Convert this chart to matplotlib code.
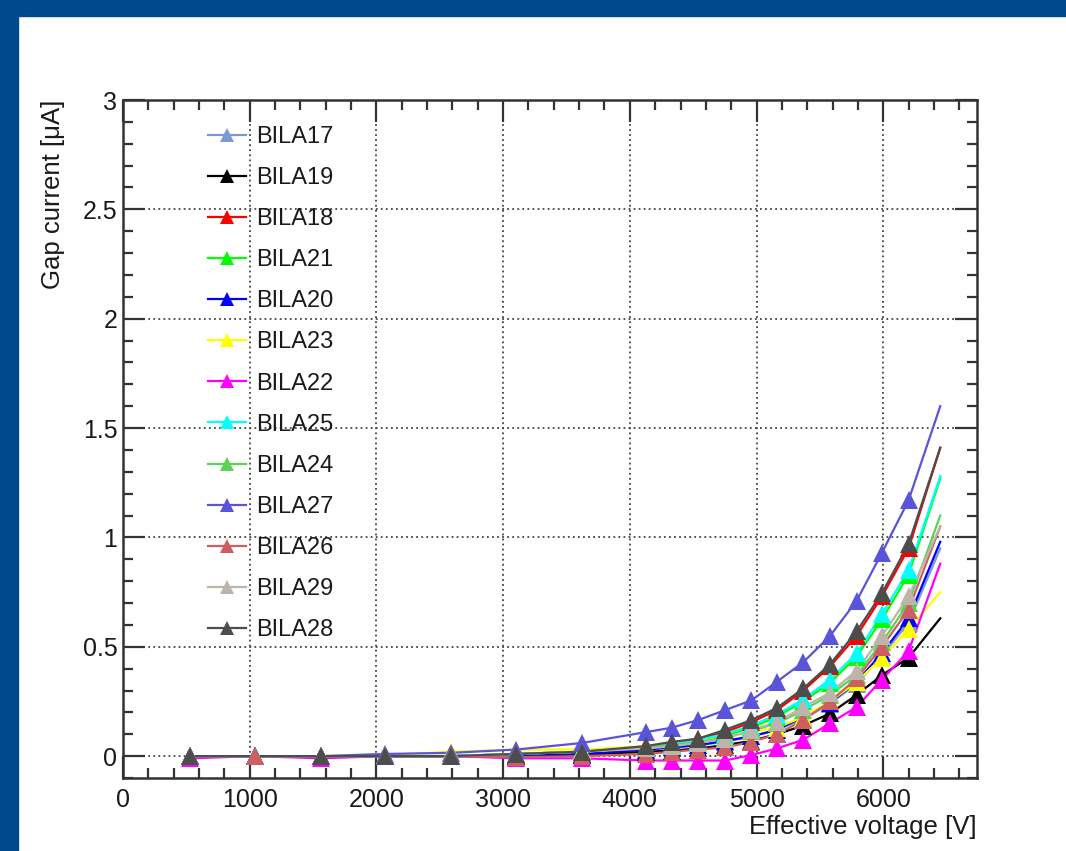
import numpy as np
import matplotlib
matplotlib.use("Agg")
import matplotlib.pyplot as plt
from matplotlib.patches import Rectangle
from matplotlib.ticker import MultipleLocator

plt.rcParams['font.family'] = ['Liberation Sans', 'DejaVu Sans']

# ---------------- data ----------------
voltage = [530, 1040, 1560, 2070, 2590, 3100, 3620, 4130, 4330, 4540,
           4750, 4960, 5160, 5370, 5580, 5790, 5990, 6200]
voltage_end = 6450  # end of the fitted curves

names = ["BILA17", "BILA19", "BILA18", "BILA21", "BILA20", "BILA23", "BILA22",
         "BILA25", "BILA24", "BILA27", "BILA26", "BILA29", "BILA28"]
colors = ["#7d99d1", "#000000", "#ff0000", "#00ff00", "#0000ff", "#ffff00",
          "#ff00ff", "#00ffff", "#59d454", "#5954d9", "#cf5e61", "#bdb4aa",
          "#4d4d4d"]

nan = np.nan
bila17 = [0, 0, 0, 0, 0, 0.005, 0.01, 0.03, 0.04, 0.05, 0.065, 0.09, 0.12, 0.17, 0.24, 0.33, 0.46, 0.61]
bila19 = [0, 0, 0, 0, 0, 0, 0.005, 0.02, 0.025, 0.035, 0.05, 0.07, 0.10, 0.14, 0.195, 0.28, 0.37, 0.45]
bila18 = [0, 0, 0, 0, 0, 0.01, 0.02, 0.045, 0.06, 0.08, 0.11, 0.155, 0.21, 0.30, 0.41, 0.55, 0.73, 0.95]
bila21 = [0, 0, 0, 0, 0, 0.01, 0.02, 0.04, 0.05, 0.07, 0.095, 0.13, 0.18, 0.25, 0.335, 0.455, 0.625, 0.83]
bila20 = [0, 0, 0, 0, 0, 0.005, 0.01, 0.03, 0.04, 0.05, 0.07, 0.09, 0.12, 0.18, 0.245, 0.34, 0.47, 0.63]
bila23 = [0, 0, 0, 0.005, 0.02, 0.03, 0.03, 0.045, 0.055, 0.07, 0.085, 0.11, 0.13, 0.18, 0.25, 0.34, 0.45, 0.58]
bila22 = [-0.01, 0, -0.01, 0, 0, -0.01, -0.01, -0.02, -0.02, -0.02, -0.02, 0.005, 0.035, 0.075, 0.15, 0.225, 0.35, 0.48]
bila25 = [0, 0, 0, 0, 0, 0.01, 0.02, 0.04, 0.055, 0.075, 0.10, 0.14, 0.19, 0.26, 0.35, 0.47, 0.65, 0.85]
bila24 = [0, 0, 0, 0, 0, 0.01, 0.02, 0.04, 0.05, 0.065, 0.085, 0.115, 0.15, 0.21, 0.28, 0.37, 0.52, 0.70]
bila27 = [0, 0, 0, 0.01, 0.015, 0.03, 0.06, 0.11, 0.13, 0.165, 0.21, 0.255, 0.34, 0.43, 0.55, 0.71, 0.93, 1.17]
bila26 = [0, 0, 0, 0, 0, -0.005, 0, 0.01, 0.02, 0.03, 0.04, 0.065, 0.10, 0.165, 0.25, 0.355, 0.50, 0.67]
bila29 = [0, nan, 0, 0, 0, 0.01, 0.02, 0.035, 0.045, 0.06, 0.08, 0.12, 0.155, 0.225, 0.29, 0.39, 0.55, 0.73]
bila28 = [0, nan, 0, 0, 0, 0.01, 0.02, 0.046, 0.065, 0.08, 0.12, 0.165, 0.22, 0.31, 0.42, 0.57, 0.745, 0.97]

# value of each fitted curve at voltage_end
end_values = [0.95, 0.63, 1.41, 1.27, 0.98, 0.75, 0.88, 1.28, 1.10, 1.60, 1.05, 1.05, 1.41]

series = [bila17, bila19, bila18, bila21, bila20, bila23, bila22,
          bila25, bila24, bila27, bila26, bila29, bila28]

x_ticks = [0, 1000, 2000, 3000, 4000, 5000, 6000]
y_ticks = [0, 0.5, 1, 1.5, 2, 2.5, 3]
y_tick_labels = ["0", "0.5", "1", "1.5", "2", "2.5", "3"]

# ---------------- figure ----------------
W, H = 1066, 851
fig = plt.figure(figsize=(W / 100, H / 100), dpi=100)
fig.patch.set_facecolor("white")
# blue frame bands
fig.patches.append(Rectangle((0, 1 - 16 / H), 1, 16 / H, transform=fig.transFigure,
                             color="#004a8c", zorder=0))
fig.patches.append(Rectangle((0, 0), 18 / W, 1, transform=fig.transFigure,
                             color="#004a8c", zorder=0))

ax = fig.add_axes([123 / W, 1 - 778 / H, (977 - 123) / W, (778 - 100) / H])

xv = np.array(voltage, dtype=float)
for name, col, vals, endv in zip(names, colors, series, end_values):
    v = np.array(vals, dtype=float)
    ok = ~np.isnan(v)
    lx = np.append(xv[ok], voltage_end)
    ly = np.append(v[ok], endv)
    ax.plot(lx, ly, color=col, lw=1.6, zorder=2)
    ax.plot(xv[ok], v[ok], linestyle="none", marker="^", color=col,
            markersize=12.5, markeredgewidth=0, zorder=3)
    # legend proxy
    ax.plot([], [], color=col, lw=1.6, marker="^", markersize=10,
            markeredgewidth=0, label=name)

ax.set_xlim(0, 6740)
ax.set_ylim(-0.1, 3)
ax.set_xticks(x_ticks)
ax.set_yticks(y_ticks)
ax.set_yticklabels(y_tick_labels)
ax.xaxis.set_minor_locator(MultipleLocator(200))
ax.yaxis.set_minor_locator(MultipleLocator(0.1))

tc = "#333333"
ax.tick_params(which="both", direction="in", top=True, right=True,
               color=tc, width=1.6, labelcolor="#1a1a1a")
ax.tick_params(which="major", length=16, labelsize=18)
ax.tick_params(which="minor", length=7)
ax.tick_params(axis="x", which="major", pad=7)
ax.tick_params(axis="y", which="major", pad=4)
for s in ax.spines.values():
    s.set_color(tc)
    s.set_linewidth(1.8)

ax.grid(True, which="major", color="#444444", linestyle=(0, (1, 1.8)), lw=1.3, zorder=1)
ax.set_axisbelow(True)

ax.set_xlabel("Effective voltage [V]", fontsize=18.5, loc="right", color="#1a1a1a")
ax.xaxis.set_label_coords(1.0, -0.055)
ax.set_ylabel("Gap current [\u03bcA]", fontsize=18.5, loc="top", color="#1a1a1a")
ax.yaxis.set_label_coords(-0.068, 1.0)

leg = ax.legend(loc="upper left", bbox_to_anchor=(0.0995, 0.962), frameon=False,
                fontsize=17, handlelength=1.6, handletextpad=0.45,
                labelspacing=0.81, borderaxespad=0, borderpad=0)
for t in leg.get_texts():
    t.set_color("#1a1a1a")

fig.savefig("out.png", dpi=100)
